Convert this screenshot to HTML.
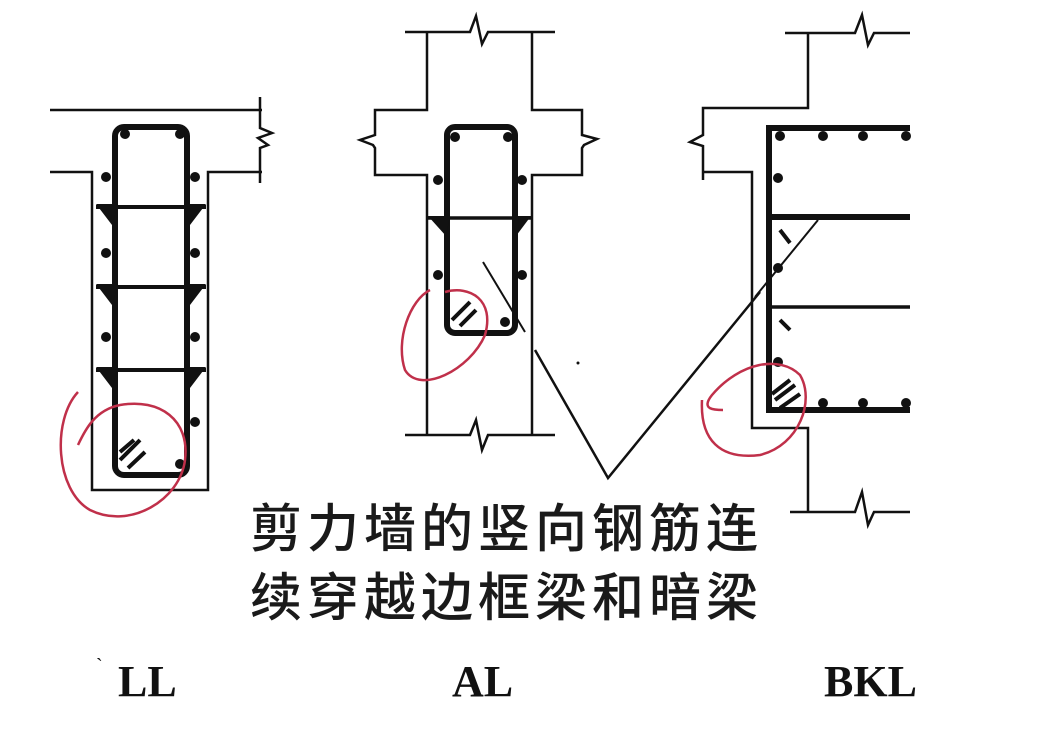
<!DOCTYPE html>
<html><head><meta charset="utf-8"><style>
html,body{margin:0;padding:0;background:#fff;}
svg{display:block}
.t{font-family:"Liberation Serif","Noto Sans CJK SC",serif;fill:#111}
.c{font-family:"Liberation Sans","Noto Sans CJK SC",sans-serif;fill:#1a1a1a}
</style></head><body>
<svg width="1039" height="730" viewBox="0 0 1039 730" xmlns="http://www.w3.org/2000/svg">
<rect width="1039" height="730" fill="#fff"/>
<g stroke="#111" fill="none" stroke-width="2.5" stroke-linejoin="miter">
<path d="M50 110 H262"/>
<path d="M50 172 H92 V490 H208 V172 H262"/>
<path d="M260 97 V128 L272 133 L258 138 L268 145 L260 148 V183"/>
<rect x="115" y="127" width="72" height="348" rx="9" stroke-width="6"/>
<path d="M96 207 H206 M96 287 H206 M96 370 H206" stroke-width="4"/>
<path d="M405 32 H470 L476 16 L482 44 L488 32 H555"/>
<path d="M427 32 V110 H375 V135 L360 140 L373 145 L375 148 V175 H427 V435"/>
<path d="M532 32 V110 H582 V135 L597 139 L584 145 L582 148 V175 H532 V435"/>
<path d="M405 435 H470 L476 420 L482 450 L488 435 H555"/>
<rect x="447" y="127" width="68" height="206" rx="8" stroke-width="6"/>
<path d="M427 218 H532" stroke-width="3.5"/>
<path d="M483 262 L525 332" stroke-width="2"/>
<path d="M535 350 L608 478 L760 292" stroke-width="2.5"/>
<path d="M785 33 H855 L862 15 L868 45 L874 33 H910"/>
<path d="M808 33 V108 H703 V135 L690 142 L703 146 V180"/>
<path d="M703 172 H752 V428 H808 V512"/>
<path d="M790 512 H855 L862 492 L868 525 L874 512 H910"/>
<path d="M910 128 H769 V410 H910" stroke-width="6"/>
<path d="M769 217 H910" stroke-width="6"/>
<path d="M769 307 H910" stroke-width="3.5"/>
<path d="M818 220 L755 297" stroke-width="2"/>
<path d="M780 230 L790 243 M780 320 L790 330" stroke-width="4"/>
</g>
<g stroke="#111" stroke-width="4">
<path d="M120 460 L140 440 M128 468 L145 452 M120 452 L134 440"/>
<path d="M452 320 L470 302 M460 326 L476 310"/>
<path d="M775 400 L795 385 M780 408 L800 394 M772 394 L790 380"/>
</g>
<g fill="#111">
<path d="M96 204 H118 L112 225 Z M206 204 H184 L190 225 Z"/>
<path d="M96 284 H118 L112 305 Z M206 284 H184 L190 305 Z"/>
<path d="M96 367 H118 L112 388 Z M206 367 H184 L190 388 Z"/>
<path d="M428 216 H450 L446 236 Z M531 216 H512 L516 236 Z"/>
<circle cx="125" cy="134" r="5"/><circle cx="180" cy="134" r="5"/>
<circle cx="106" cy="177" r="5"/><circle cx="195" cy="177" r="5"/>
<circle cx="106" cy="253" r="5"/><circle cx="195" cy="253" r="5"/>
<circle cx="106" cy="337" r="5"/><circle cx="195" cy="337" r="5"/>
<circle cx="195" cy="422" r="5"/><circle cx="180" cy="464" r="5"/>
<circle cx="455" cy="137" r="5"/><circle cx="508" cy="137" r="5"/>
<circle cx="438" cy="180" r="5"/><circle cx="522" cy="180" r="5"/>
<circle cx="438" cy="275" r="5"/><circle cx="522" cy="275" r="5"/>
<circle cx="505" cy="322" r="5"/>
<circle cx="780" cy="136" r="5"/><circle cx="823" cy="136" r="5"/><circle cx="863" cy="136" r="5"/><circle cx="906" cy="136" r="5"/>
<circle cx="778" cy="178" r="5"/><circle cx="778" cy="268" r="5"/><circle cx="778" cy="362" r="5"/>
<circle cx="823" cy="403" r="5"/><circle cx="863" cy="403" r="5"/><circle cx="906" cy="403" r="5"/>
<circle cx="578" cy="363" r="1.5"/>
</g>
<g stroke="#c0304a" stroke-width="2.5" fill="none">
<path d="M78 392 C52 420 55 490 90 510 C130 530 180 500 185 460 C190 420 160 398 120 405 C95 410 85 430 78 445"/>
<path d="M430 290 C410 300 395 340 405 370 C420 395 470 370 485 335 C495 300 470 285 445 292"/>
<path d="M702 400 C700 440 720 460 760 455 C800 445 815 400 800 375 C780 355 740 362 712 395 C700 410 715 410 723 410"/>
</g>
<text class="c" x="250" y="547" font-size="52" letter-spacing="5" font-weight="500">剪力墙的竖向钢筋连</text>
<text class="c" x="250" y="616" font-size="52" letter-spacing="5" font-weight="500">续穿越边框梁和暗梁</text>
<text class="t" x="118" y="696" font-size="44" font-weight="bold">LL</text>
<text class="t" x="96" y="672" font-size="20">`</text>
<text class="t" x="452" y="696" font-size="44" font-weight="bold">AL</text>
<text class="t" x="824" y="696" font-size="44" font-weight="bold">BKL</text>
</svg>
</body></html>
